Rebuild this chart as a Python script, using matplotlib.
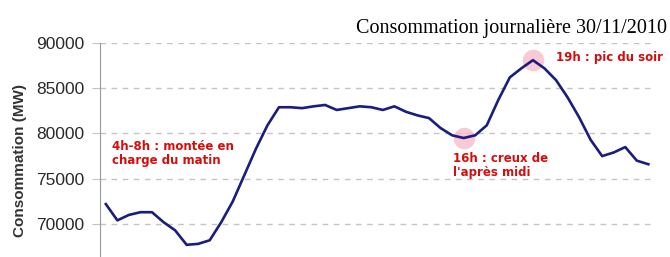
import matplotlib
matplotlib.use('Agg')
import matplotlib.pyplot as plt

# Consommation par demi-heure (MW)
conso = [72200, 70400, 71000, 71300, 71300, 70200, 69300, 67700, 67800, 68200,
         70200, 72500, 75400, 78300, 80900, 82900, 82900, 82800, 83000, 83150,
         82600, 82800, 83000, 82900, 82600, 83000, 82400, 82000, 81700, 80600,
         79800, 79500, 79800, 80900, 83700, 86200, 87200, 88100, 87200, 85900,
         84000, 81800, 79300, 77500, 77900, 78500, 77000, 76600]
pts = list(range(len(conso)))

yticks = [70000, 75000, 80000, 85000, 90000]
marques = [31, 37]  # creux 16h, pic 19h

fig = plt.figure(figsize=(6.7, 2.57), dpi=100)
ax = fig.add_axes([0.149, 0.0, 0.829, 0.8327])

ax.set_xlim(-0.52, 47.6)
ax.set_ylim(66350, 90000)

for v in yticks:
    ax.axhline(v, color='#c4c4c4', lw=1, ls=(0, (4, 4)), zorder=0)

ax.scatter([pts[i] for i in marques], [conso[i] for i in marques],
           s=240, color='#f7b8c6', alpha=0.75, lw=0, zorder=1)
ax.plot(pts, conso, color='#1c1c80', lw=1.9, zorder=2)

ax.set_yticks(yticks)
ax.set_yticklabels([str(v) for v in yticks], fontsize=12.5, color='#2a2a2a',
                   family='Liberation Sans')
ax.tick_params(axis='y', length=6, color='#c4c4c4', pad=5)
ax.set_xticks([])
for s in ['top', 'right', 'bottom']:
    ax.spines[s].set_visible(False)
ax.spines['left'].set_color('#999999')

ax.set_ylabel('Consommation (MW)', fontsize=11, fontweight='bold', color='#333333',
              family='Liberation Sans')
ax.yaxis.set_label_coords(-0.132, 0.45)

rouge = '#d40d0d'
ax.text(0.52, 79300, "4h-8h : montée en\ncharge du matin", color=rouge,
        fontsize=8.5, fontweight='bold', va='top', ha='left', linespacing=1.1)
ax.text(30.1, 77900, "16h : creux de\nl'après midi", color=rouge,
        fontsize=8.5, fontweight='bold', va='top', ha='left', linespacing=1.1)
ax.text(39.0, 88450, "19h : pic du soir", color=rouge,
        fontsize=8.5, fontweight='bold', va='center', ha='left')

fig.text(667 / 670, 1 - 33 / 257, 'Consommation journalière 30/11/2010',
         family='Liberation Serif', fontsize=14.5, ha='right', va='baseline')

fig.savefig('out.png', dpi=100)
